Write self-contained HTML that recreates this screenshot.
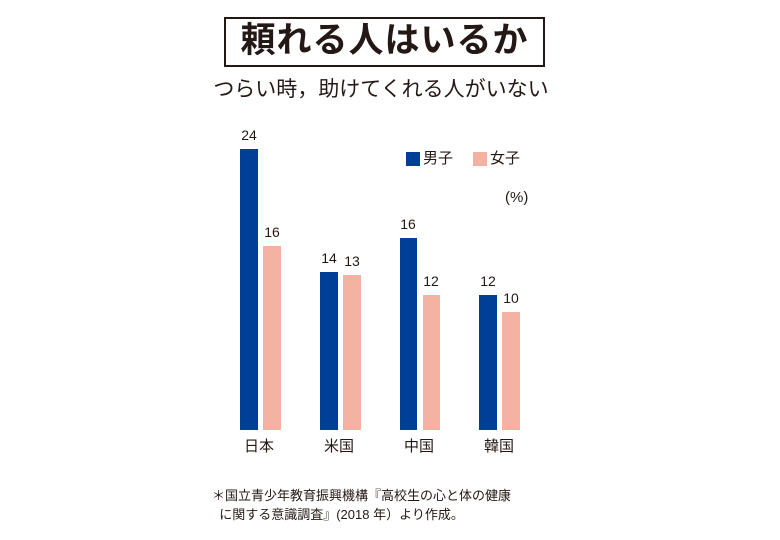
<!DOCTYPE html>
<html><head><meta charset="utf-8"><style>
body{margin:0;background:#fff;width:780px;height:540px;position:relative;overflow:hidden;font-family:"Liberation Sans","Noto Sans CJK JP",sans-serif;color:#231815}
.a{position:absolute;white-space:nowrap}
.b{position:absolute;}
.m{background:#003f98}
.f{background:#f4b3a2}
.n{position:absolute;font-size:14px;width:40px;text-align:center;line-height:14px}
.c{position:absolute;font-size:15px;top:439px;line-height:16px}
</style></head><body>
<div class="b" style="left:224px;top:17px;width:317px;height:46px;border:2px solid #231815"></div>
<div class="a" style="left:224px;top:19px;width:321px;text-align:center;font-size:35px;font-weight:bold;line-height:44px;letter-spacing:1px">頼れる人はいるか</div>
<div class="a" style="left:211px;top:77px;width:340px;text-align:center;font-size:21px;line-height:25px">つらい時，助けてくれる人がいない</div>

<div class="b m" style="left:240px;top:149px;width:18px;height:281px"></div>
<div class="b f" style="left:263px;top:246px;width:18px;height:184px"></div>
<div class="b m" style="left:320px;top:272px;width:18px;height:158px"></div>
<div class="b f" style="left:343px;top:275px;width:18px;height:155px"></div>
<div class="b m" style="left:400px;top:238px;width:17px;height:192px"></div>
<div class="b f" style="left:423px;top:295px;width:17px;height:135px"></div>
<div class="b m" style="left:479px;top:295px;width:18px;height:135px"></div>
<div class="b f" style="left:502px;top:312px;width:18px;height:118px"></div>

<div class="n" style="left:229px;top:128px">24</div>
<div class="n" style="left:252px;top:225px">16</div>
<div class="n" style="left:309px;top:251px">14</div>
<div class="n" style="left:332px;top:254px">13</div>
<div class="n" style="left:388px;top:217px">16</div>
<div class="n" style="left:411px;top:274px">12</div>
<div class="n" style="left:468px;top:274px">12</div>
<div class="n" style="left:491px;top:291px">10</div>

<div class="c" style="left:244px">日本</div>
<div class="c" style="left:324px">米国</div>
<div class="c" style="left:404px">中国</div>
<div class="c" style="left:484px">韓国</div>

<div class="b m" style="left:406px;top:152px;width:14px;height:14px"></div>
<div class="a" style="left:423px;top:150px;font-size:15px;line-height:18px">男子</div>
<div class="b f" style="left:473px;top:152px;width:14px;height:14px"></div>
<div class="a" style="left:490px;top:150px;font-size:15px;line-height:18px">女子</div>
<div class="a" style="left:505px;top:189px;font-size:15px;line-height:18px">(%)</div>

<div class="a" style="left:212px;top:486px;font-size:13px;line-height:19px">＊国立青少年教育振興機構『高校生の心と体の健康<br>&nbsp;&nbsp;に関する意識調査』(2018 年）より作成。</div>
</body></html>
